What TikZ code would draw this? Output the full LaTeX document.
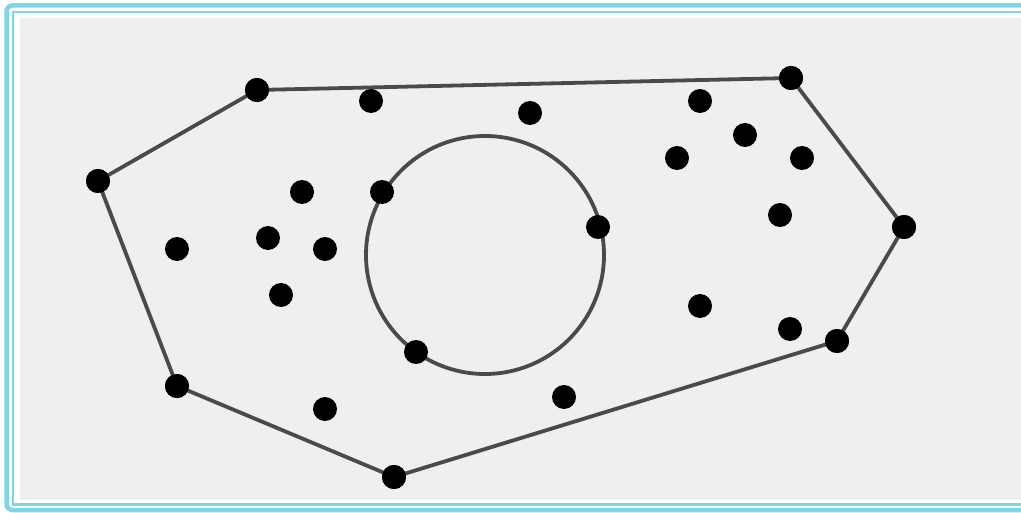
\documentclass[tikz,border=0pt]{standalone}
\definecolor{bgray}{HTML}{EFEFEF}
\definecolor{frameblue}{HTML}{7DD6E8}
\definecolor{edgegray}{HTML}{4A4A4A}
\tikzset{
  pt/.style={circle,fill=black,inner sep=0pt,minimum size=24pt},
  hull/.style={draw=edgegray,line width=3.8pt},
  ring/.style={circle,draw=edgegray,line width=3.8pt,minimum size=238pt,inner sep=0pt}
}
\begin{document}
\begin{tikzpicture}[x=1pt,y=-1pt]
\useasboundingbox (0,0) rectangle (1021,513);
\fill[white] (0,0) rectangle (1021,513);
\fill[bgray] (20,18) rectangle (1021,500);
\draw[frameblue,line width=4.5pt,rounded corners=6pt] (1030,5.5) -- (6.5,5.5) -- (6.5,510) -- (1030,510);
\draw[frameblue,line width=2.2pt] (1030,12) -- (13,12) -- (13,504.5) -- (1030,504.5);
\node[ring] (c) at (485,255) {};
% hull vertices
\node[pt] (h1) at (257,90) {};
\node[pt] (h2) at (791,78) {};
\node[pt] (h3) at (904,227) {};
\node[pt] (h4) at (837,341) {};
\node[pt] (h5) at (394,477) {};
\node[pt] (h6) at (177,386) {};
\node[pt] (h7) at (98,181) {};
\draw[hull] (h1.center) -- (h2.center) -- (h3.center) -- (h4.center) -- (h5.center) -- (h6.center) -- (h7.center) -- (h1.center);
\foreach \n in {h1,h2,h3,h4,h5,h6,h7} \fill (\n) circle (12);
% interior points
\node[pt] (p1) at (371,101) {};
\node[pt] (p2) at (530,113) {};
\node[pt] (p3) at (700,101) {};
\node[pt] (p4) at (745,135) {};
\node[pt] (p5) at (677,158) {};
\node[pt] (p6) at (802,158) {};
\node[pt] (p7) at (780,215) {};
\node[pt] (p8) at (302,192) {};
\node[pt] (p9) at (382,192) {};
\node[pt] (p10) at (177,249) {};
\node[pt] (p11) at (268,238) {};
\node[pt] (p12) at (325,249) {};
\node[pt] (p13) at (281,295) {};
\node[pt] (p14) at (598,227) {};
\node[pt] (p15) at (416,352) {};
\node[pt] (p16) at (700,306) {};
\node[pt] (p17) at (790,329) {};
\node[pt] (p18) at (325,409) {};
\node[pt] (p19) at (564,397) {};
\end{tikzpicture}
\end{document}
